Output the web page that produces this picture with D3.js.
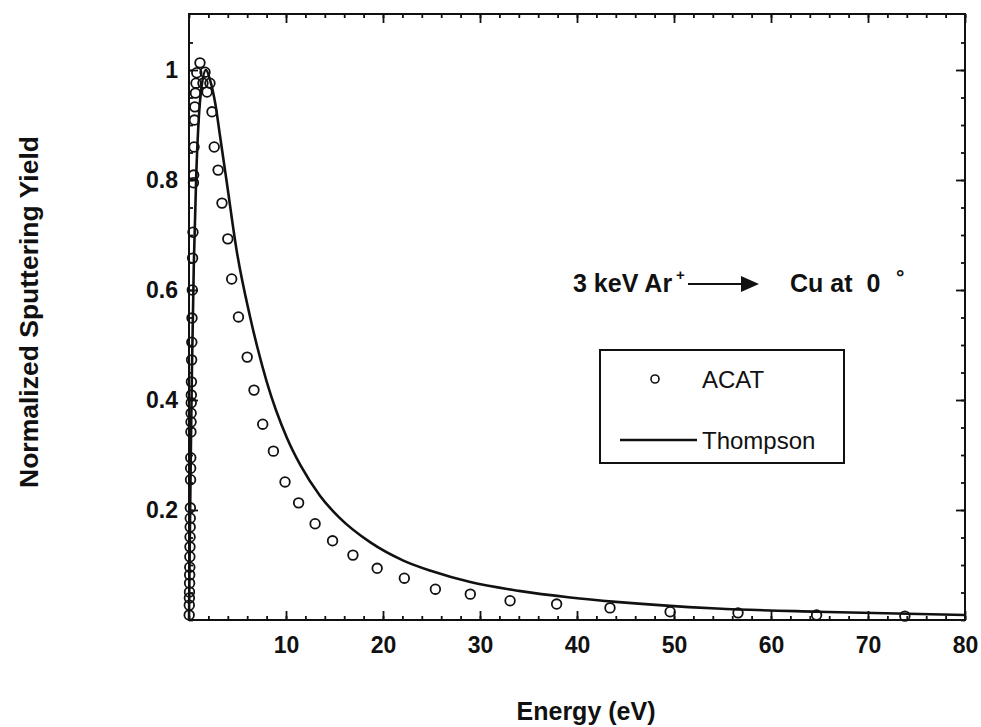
<!DOCTYPE html>
<html>
<head>
<meta charset="utf-8">
<script src="https://cdn.jsdelivr.net/npm/d3@7"></script>
<style>
  body { margin: 0; background: #fff; }
  text { font-family: "Liberation Sans", Arial, sans-serif; fill: #111; }
</style>
</head>
<body>
<svg id="chart" width="981" height="727"></svg>
<script>
// ACAT points (energy in eV, normalized yield)
const acatEnergy = [
  0.02, 0.03, 0.04, 0.05, 0.06, 0.07, 0.08, 0.09, 0.10, 0.11,
  0.12, 0.13, 0.14, 0.16, 0.17, 0.18, 0.20, 0.21, 0.22, 0.23,
  0.24, 0.25, 0.27, 0.29, 0.31, 0.34, 0.37, 0.41, 0.46, 0.48,
  0.52, 0.56, 0.60, 0.66, 0.72, 0.80,
  1.13, 1.44, 1.65, 1.86, 2.16, 2.37, 2.60, 3.00, 3.40, 4.00,
  4.40, 5.10, 6.00, 6.70, 7.60, 8.70, 9.90, 11.3, 13.0, 14.8,
  16.9, 19.4, 22.2, 25.4, 29.0, 33.1, 37.9, 43.4, 49.6, 56.6,
  64.7, 73.8
];
const acatYield = [
  0.009, 0.027, 0.040, 0.051, 0.067, 0.082, 0.096, 0.115, 0.133, 0.151,
  0.169, 0.185, 0.204, 0.255, 0.276, 0.295, 0.342, 0.360, 0.376, 0.395,
  0.409, 0.433, 0.473, 0.505, 0.549, 0.600, 0.658, 0.705, 0.795, 0.809,
  0.860, 0.909, 0.933, 0.958, 0.976, 0.995,
  1.013, 0.976, 0.996, 0.960, 0.976, 0.924, 0.860, 0.818, 0.758, 0.693,
  0.620, 0.551, 0.478, 0.418, 0.356, 0.307, 0.251, 0.213, 0.175, 0.144,
  0.118, 0.094, 0.076, 0.056, 0.047, 0.035, 0.029, 0.022, 0.015, 0.013,
  0.009, 0.007
];

// Thompson curve
const thompsonEnergy = [0, 0.1, 0.2, 0.3, 0.5, 0.75, 1.0, 1.3, 1.75, 2.2, 2.7, 3.2, 3.9,
  4.9, 6.3, 7.0, 8.0, 10.1, 11.5, 13.5, 15.5, 18.7, 22.1, 25, 29, 34, 39.3, 44, 54.4, 64.7, 80];
const thompsonYield = [0, 0.17, 0.32, 0.45, 0.65, 0.81, 0.91, 0.97, 1.0, 0.98, 0.94, 0.88, 0.795,
  0.673, 0.551, 0.499, 0.434, 0.331, 0.281, 0.226, 0.186, 0.141, 0.108, 0.089, 0.069, 0.053,
  0.041, 0.033, 0.021, 0.015, 0.009];

const xTicks = [10, 20, 30, 40, 50, 60, 70, 80];
const yTicks = [0.2, 0.4, 0.6, 0.8, 1];

const svg = d3.select("#chart");
const mLeft = 189, mRight = 965, mTop = 14, mBottom = 620;

const x = d3.scaleLinear().domain([0, 80]).range([mLeft, mRight]);
const y = d3.scaleLinear().domain([0, 1.1]).range([mBottom, mBottom - 605]);

const xMinor = d3.range(0, 81, 2);
const yMinor = d3.range(0, 1.1, 0.05);

function styleAxis(g) {
  g.select(".domain").remove();
  g.selectAll("line").attr("stroke", "#111").attr("stroke-width", 1.8);
  g.selectAll("text").attr("font-size", 23).attr("font-weight", "bold")
    .attr("font-family", '"Liberation Sans", Arial, sans-serif').attr("fill", "#111");
}

// minor ticks, all four sides, pointing inward
svg.append("g").attr("transform", `translate(0,${mBottom})`)
  .call(d3.axisBottom(x).tickValues(xMinor).tickSize(-4).tickFormat("")).call(styleAxis);
svg.append("g").attr("transform", `translate(0,${mTop})`)
  .call(d3.axisTop(x).tickValues(xMinor).tickSize(-4).tickFormat("")).call(styleAxis);
svg.append("g").attr("transform", `translate(${mLeft},0)`)
  .call(d3.axisLeft(y).tickValues(yMinor).tickSize(-4).tickFormat("")).call(styleAxis);
svg.append("g").attr("transform", `translate(${mRight},0)`)
  .call(d3.axisRight(y).tickValues(yMinor).tickSize(-4).tickFormat("")).call(styleAxis);

// major ticks with labels
svg.append("g").attr("transform", `translate(0,${mBottom})`)
  .call(d3.axisBottom(x).tickValues(xTicks).tickSize(-9).tickPadding(17)).call(styleAxis);
svg.append("g").attr("transform", `translate(0,${mTop})`)
  .call(d3.axisTop(x).tickValues(xTicks).tickSize(-9).tickFormat("")).call(styleAxis);
svg.append("g").attr("transform", `translate(${mLeft},0)`)
  .call(d3.axisLeft(y).tickValues(yTicks).tickSize(-9).tickPadding(11).tickFormat(d => String(d)))
  .call(styleAxis);
svg.append("g").attr("transform", `translate(${mRight},0)`)
  .call(d3.axisRight(y).tickValues(yTicks).tickSize(-9).tickFormat("")).call(styleAxis);

// frame
svg.append("rect")
  .attr("x", mLeft).attr("y", mTop)
  .attr("width", mRight - mLeft).attr("height", mBottom - mTop)
  .attr("fill", "none").attr("stroke", "#111").attr("stroke-width", 2);

// Thompson line
const thompson = thompsonEnergy.map((e, i) => ({ e, v: thompsonYield[i] }));
const line = d3.line().x(d => x(d.e)).y(d => y(d.v)).curve(d3.curveMonotoneX);
svg.append("path").datum(thompson)
  .attr("fill", "none").attr("stroke", "#111").attr("stroke-width", 2.6)
  .attr("d", line);

// ACAT circles
const acat = acatEnergy.map((e, i) => ({ e, v: acatYield[i] }));
svg.append("g").selectAll("circle").data(acat).join("circle")
  .attr("cx", d => x(d.e)).attr("cy", d => y(d.v)).attr("r", 4.8)
  .attr("fill", "none").attr("stroke", "#111").attr("stroke-width", 1.8);

// axis titles
svg.append("text")
  .attr("x", 586).attr("y", 720)
  .attr("text-anchor", "middle").attr("font-size", 25).attr("font-weight", "bold")
  .text("Energy (eV)");
svg.append("text")
  .attr("transform", "translate(38,312) rotate(-90)")
  .attr("text-anchor", "middle").attr("font-size", 26.5).attr("font-weight", "bold")
  .text("Normalized Sputtering Yield");

// annotation
const note = svg.append("g");
note.append("text").attr("x", 573).attr("y", 292)
  .attr("font-size", 25).attr("font-weight", "bold").text("3 keV Ar");
note.append("text").attr("x", 676).attr("y", 280)
  .attr("font-size", 15).attr("font-weight", "bold").text("+");
note.append("line").attr("x1", 688).attr("x2", 744).attr("y1", 284).attr("y2", 284)
  .attr("stroke", "#111").attr("stroke-width", 2);
note.append("path").attr("d", "M741,276 L759,284 L741,292 Z").attr("fill", "#111");
note.append("text").attr("x", 790).attr("y", 292)
  .attr("font-size", 25).attr("font-weight", "bold").attr("xml:space", "preserve")
  .text("Cu at  0");
note.append("text").attr("x", 896).attr("y", 284)
  .attr("font-size", 21).attr("font-weight", "bold").text("°");

// legend
const legend = svg.append("g");
legend.append("rect").attr("x", 600).attr("y", 350).attr("width", 244).attr("height", 113)
  .attr("fill", "#fff").attr("stroke", "#111").attr("stroke-width", 2);
legend.append("circle").attr("cx", 655).attr("cy", 379).attr("r", 4)
  .attr("fill", "none").attr("stroke", "#111").attr("stroke-width", 1.6);
legend.append("text").attr("x", 702).attr("y", 388).attr("font-size", 24).text("ACAT");
legend.append("line").attr("x1", 620).attr("x2", 697).attr("y1", 440).attr("y2", 440)
  .attr("stroke", "#111").attr("stroke-width", 2.4);
legend.append("text").attr("x", 702).attr("y", 449).attr("font-size", 24).text("Thompson");
</script>
</body>
</html>
